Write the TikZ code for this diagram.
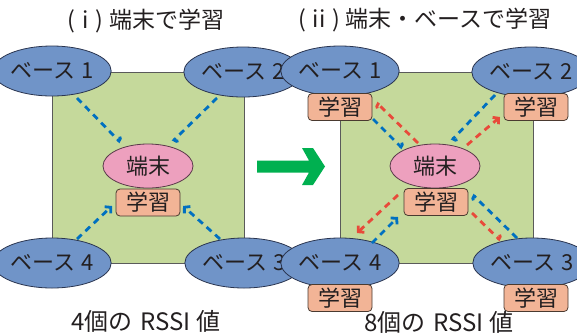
\documentclass[tikz,border=0pt]{standalone}
\usepackage{fontspec}
\setmainfont{Noto Sans CJK JP}
\usetikzlibrary{shapes.geometric,arrows.meta}
\definecolor{fieldfill}{HTML}{C5D99B}
\definecolor{fielddraw}{HTML}{5A5A5A}
\definecolor{basefill}{HTML}{7094C8}
\definecolor{basedraw}{HTML}{2A3550}
\definecolor{termfill}{HTML}{EDA0BE}
\definecolor{termdraw}{HTML}{5A3A4A}
\definecolor{learnfill}{HTML}{F2B496}
\definecolor{learndraw}{HTML}{4A3A30}
\definecolor{sigblue}{HTML}{0070C0}
\definecolor{sigred}{HTML}{E84A3A}
\definecolor{arrowgreen}{HTML}{00B050}
\definecolor{txt}{HTML}{231F20}
\tikzset{
  basenode/.style={ellipse, draw=basedraw, fill=basefill, line width=0.8pt, minimum width=90pt, minimum height=50pt, inner sep=0pt, text=txt, font=\fontsize{22pt}{24pt}\selectfont},
  termnode/.style={ellipse, draw=termdraw, fill=termfill, line width=0.8pt, minimum width=90pt, minimum height=44pt, inner sep=0pt, text=txt, font=\fontsize{22pt}{24pt}\selectfont},
  learnbox/.style={draw=learndraw, fill=learnfill, line width=0.8pt, rounded corners=4pt, minimum width=64pt, minimum height=27pt, inner sep=0pt, text=txt, font=\fontsize{22pt}{24pt}\selectfont},
  fieldrect/.style={draw=fielddraw, fill=fieldfill, line width=0.8pt},
  sig/.style={dash pattern=on 6.5pt off 5pt, line width=2.8pt},
  bsig/.style={sig, draw=sigblue},
  rsig/.style={sig, draw=sigred},
  hooktip/.style={-{Arc Barb[harpoon,length=4pt,width=10pt]}},
  fulltip/.style={-{Straight Barb[length=4pt,width=9pt]}},
  caption/.style={text=txt, inner sep=0pt, font=\fontsize{23pt}{26pt}\selectfont},
  bottomcap/.style={text=txt, inner sep=0pt, font=\fontsize{24pt}{26pt}\selectfont},
  greenarrow/.style={fill=arrowgreen, draw=none}
}
\begin{document}
\begin{tikzpicture}[x=1pt,y=-1pt]
\useasboundingbox (0,0) rectangle (577,333);
% ---------- left panel ----------
\node[caption] (titleL) at (146,21) {(\hspace{0.3em}i\hspace{0.3em})\hspace{0.25em}端末で学習};
\path[fieldrect] (52,72) rectangle (244,263);
\node[basenode] (lb1) at (52,71) {ベース\hspace{0.3em}1};
\node[basenode] (lb2) at (243,72) {ベース\hspace{0.3em}2};
\node[basenode] (lb4) at (52,263) {ベース\hspace{0.3em}4};
\node[basenode] (lb3) at (244,263) {ベース\hspace{0.3em}3};
\node[termnode] (lt) at (148,166) {端末};
\node[learnbox] (ll) at (148,202.5) {学習};
\coordinate (la1) at (77,98);   \coordinate (la1e) at (120,142);
\coordinate (la2) at (217,98);  \coordinate (la2e) at (173,141);
\coordinate (la4) at (77,239);  \coordinate (la4e) at (112,206);
\coordinate (la3) at (220,239); \coordinate (la3e) at (183,206);
\draw[bsig,hooktip] (la1) -- (la1e);
\draw[bsig,hooktip] (la2) -- (la2e);
\draw[bsig,fulltip] (la4) -- (la4e);
\draw[bsig,fulltip] (la3) -- (la3e);
\node[bottomcap] (capL) at (146,321) {4個の\hspace{0.35em}RSSI\hspace{0.25em}値};
% ---------- green arrow ----------
\path[greenarrow] (257,160.5) -- (309,160.5) -- (302,148) -- (313,148) -- (325,166.5) -- (313,185) -- (302,185) -- (309,172.5) -- (257,172.5) -- cycle;
% ---------- right panel ----------
\node[caption] (titleR) at (425,20) {(\hspace{0.3em}ii\hspace{0.3em})\hspace{0.25em}端末・ベースで学習};
\path[fieldrect] (340,72) rectangle (533,263);
\node[basenode] (rb1) at (340,71) {ベース\hspace{0.3em}1};
\node[learnbox] (rl1) at (340,107) {学習};
\node[basenode] (rb2) at (531,72) {ベース\hspace{0.3em}2};
\node[learnbox] (rl2) at (536,107) {学習};
\node[basenode] (rb4) at (340,263) {ベース\hspace{0.3em}4};
\node[learnbox] (rl4) at (340,298) {学習};
\node[basenode] (rb3) at (532,263) {ベース\hspace{0.3em}3};
\node[learnbox] (rl3) at (536,298) {学習};
\node[termnode] (rt) at (435,166) {端末};
\node[learnbox] (rl) at (436,202) {学習};
\coordinate (r1b) at (373,119);  \coordinate (r1be) at (402,148);
\coordinate (r1r) at (418,143);  \coordinate (r1re) at (377,103);
\coordinate (r2b) at (495,95);   \coordinate (r2be) at (452,140);
\coordinate (r2r) at (467,145);  \coordinate (r2re) at (500,117);
\coordinate (r4r) at (398,195);  \coordinate (r4re) at (357,233);
\coordinate (r4b) at (372,243);  \coordinate (r4be) at (398,217);
\coordinate (r3b) at (517,238);  \coordinate (r3be) at (473,195);
\coordinate (r3r) at (472,213);  \coordinate (r3re) at (500,240);
\draw[bsig,hooktip] (r1b) -- (r1be);
\draw[rsig,hooktip] (r1r) -- (r1re);
\draw[bsig,hooktip] (r2b) -- (r2be);
\draw[rsig,fulltip] (r2r) -- (r2re);
\draw[rsig,fulltip] (r4r) -- (r4re);
\draw[bsig,fulltip] (r4b) -- (r4be);
\draw[bsig,hooktip] (r3b) -- (r3be);
\draw[rsig,hooktip] (r3r) -- (r3re);
\node[bottomcap] (capR) at (439,322) {8個の\hspace{0.35em}RSSI\hspace{0.25em}値};
\end{tikzpicture}
\end{document}
